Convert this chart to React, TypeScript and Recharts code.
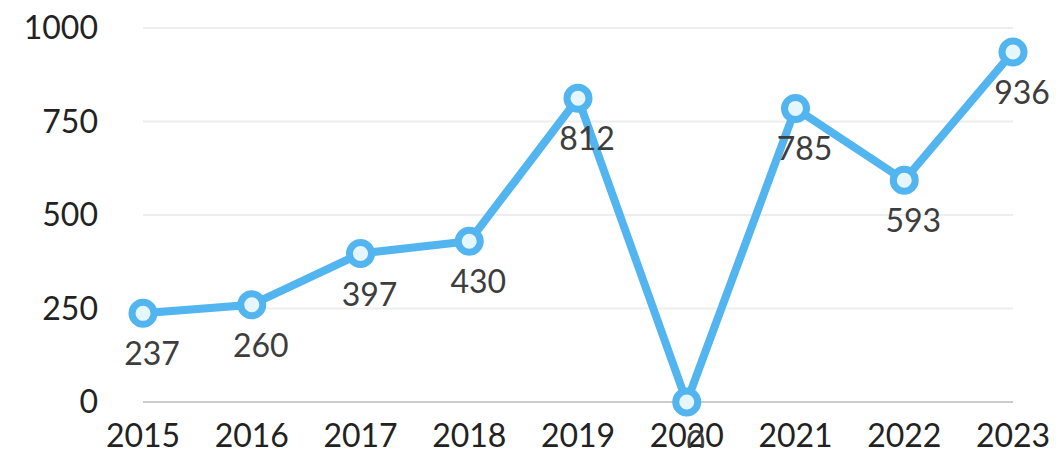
import React from 'react';
import { LineChart, Line, XAxis, YAxis, CartesianGrid, LabelList } from 'recharts';

const years = ['2015', '2016', '2017', '2018', '2019', '2020', '2021', '2022', '2023'];
const values = [237, 260, 397, 430, 812, 0, 785, 593, 936];
const yTicks = [0, 250, 500, 750, 1000];

const data = years.map((year, i) => ({ year, value: values[i] }));

const FONT = 'Lato, "Open Sans", sans-serif';
const BLUE = '#52b5ef';

const renderLabel = (props: any) => {
  const { x, y, value } = props;
  return (
    <text x={x + 9} y={y + 52} textAnchor="middle" fontSize={32} fontFamily={FONT} fill="#3d3d3d">
      {value}
    </text>
  );
};

export default function App() {
  return (
    <div style={{ margin: -8 }}>
      <LineChart width={1060} height={456} data={data} margin={{ top: 28, right: 47, bottom: 0, left: 0 }}>
        <CartesianGrid horizontal vertical={false} stroke="#eeeeee" strokeWidth={2} />
        <XAxis
          dataKey="year"
          axisLine={{ stroke: '#cccccc', strokeWidth: 2 }}
          tickLine={false}
          tickSize={0}
          tickMargin={22}
          height={54}
          interval={0}
          tick={{ fontSize: 32, fontFamily: FONT, fill: '#222' }}
        />
        <YAxis
          width={143}
          domain={[0, 1000]}
          ticks={yTicks}
          axisLine={false}
          tickLine={false}
          tickSize={0}
          tickMargin={45}
          tick={{ fontSize: 32, fontFamily: FONT, fill: '#222' }}
        />
        <Line
          type="linear"
          dataKey="value"
          stroke={BLUE}
          strokeWidth={8}
          dot={{ r: 11, stroke: BLUE, strokeWidth: 7, fill: '#e6f6fe' }}
          activeDot={false}
          isAnimationActive={false}
        >
          <LabelList dataKey="value" content={renderLabel} />
        </Line>
      </LineChart>
    </div>
  );
}
